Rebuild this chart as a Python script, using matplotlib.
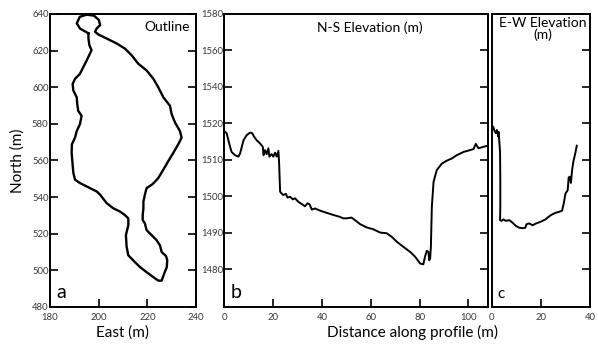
import matplotlib
matplotlib.use("Agg")
import matplotlib.pyplot as plt
import numpy as np

plt.rcParams['font.family'] = ['Lato', 'DejaVu Sans']

### DATA ###

# panel a: outline of the feature
outline_east = [195.8, 192.3, 191.0, 192.3, 195.1, 198.1, 200.1, 200.6, 199.2, 198.5,
                199.9, 203.3, 207.4, 210.8, 213.6, 216.3, 219.7, 222.5, 224.5, 226.6,
                229.3, 230.0, 231.4, 233.4, 234.1, 232.7, 230.7, 228.6, 226.6, 224.5,
                222.2, 219.7, 219.0, 218.4, 218.4, 218.1, 218.1, 219.0, 219.7, 221.8,
                223.8, 225.2, 225.9, 227.7, 228.2, 228.0, 226.9, 225.9, 224.5, 222.5,
                219.7, 217.0, 214.9, 212.2, 211.5, 211.2, 212.2, 212.2, 210.8, 208.8,
                206.0, 203.3, 200.6, 199.2, 197.8, 195.1, 192.3, 190.3, 189.6, 189.3,
                188.9, 189.0, 190.3, 191.0, 192.3, 193.0, 191.6, 191.2, 191.0, 189.6,
                189.3, 190.3, 192.3, 193.7, 195.1, 196.4, 197.1, 196.2, 195.8]
outline_north = [629.4, 632.1, 634.9, 638.5, 639.6, 639.1, 636.7, 633.9, 632.1, 630.3,
                 628.8, 626.6, 623.9, 621.1, 617.4, 612.8, 609.2, 604.6, 600.0, 594.5,
                 589.9, 585.3, 580.7, 576.1, 572.5, 568.8, 564.2, 559.6, 555.0, 550.4,
                 547.1, 544.9, 541.3, 537.6, 533.9, 530.2, 527.5, 525.7, 522.0, 519.2,
                 516.5, 513.7, 510.0, 507.8, 505.5, 501.8, 498.1, 494.4, 494.4, 496.3,
                 499.0, 501.8, 504.5, 508.2, 512.8, 519.2, 524.7, 528.4, 530.2, 532.1,
                 533.9, 536.7, 541.3, 543.1, 544.0, 545.8, 547.7, 549.5, 553.2, 557.8,
                 564.2, 568.8, 572.5, 576.1, 579.8, 584.4, 587.1, 590.8, 594.5, 598.2,
                 601.8, 604.6, 607.3, 611.0, 614.7, 618.3, 620.2, 622.9, 626.6]

# panel b: N-S profile
ns_dist = [0.2, 0.9, 1.6, 2.3, 2.9, 4.3, 5.7, 6.4, 7.1, 7.8, 9.1, 10.5, 11.4, 12.1,
           13.2, 14.6, 15.7, 16.0, 16.6, 17.3, 18.0, 18.4, 19.3, 20.0, 20.7, 21.4,
           22.1, 22.4, 22.8, 23.4, 24.1, 25.2, 25.8, 26.9, 28.0, 28.9, 30.3, 31.7,
           33.0, 34.0, 34.8, 35.8, 37.1, 39.2, 41.9, 44.7, 47.3, 48.7, 50.1, 52.1,
           53.5, 55.6, 58.3, 61.0, 63.8, 66.5, 68.6, 70.6, 73.3, 76.1, 78.1, 80.2,
           81.5, 82.2, 82.9, 83.6, 83.9, 84.3, 84.6, 85.0, 85.7, 87.0, 89.1, 91.1,
           93.2, 95.2, 98.0, 100.7, 102.1, 103.0, 104.1, 106.2, 107.8]
ns_elev = [1517.7, 1517.3, 1515.4, 1513.6, 1512.2, 1511.3, 1510.9, 1511.8, 1513.6,
           1515.4, 1516.8, 1517.5, 1517.3, 1516.4, 1515.4, 1514.5, 1513.6, 1511.3,
           1512.7, 1511.6, 1513.2, 1510.9, 1511.6, 1510.9, 1512.0, 1510.9, 1512.5,
           1509.0, 1501.3, 1500.8, 1500.4, 1500.7, 1499.7, 1499.9, 1499.2, 1499.5,
           1498.5, 1497.9, 1497.3, 1498.1, 1497.9, 1496.4, 1496.7, 1496.1, 1495.5,
           1494.9, 1494.4, 1494.0, 1494.0, 1494.2, 1493.5, 1492.4, 1491.5, 1491.0,
           1490.1, 1489.9, 1488.9, 1487.6, 1486.2, 1484.8, 1483.5, 1481.6, 1481.4,
           1483.5, 1485.1, 1484.8, 1482.5, 1483.0, 1486.2, 1497.2, 1504.0, 1507.2,
           1509.0, 1509.8, 1510.4, 1511.3, 1512.2, 1512.7, 1513.0, 1514.4, 1513.2,
           1513.6, 1513.9]

# panel c: E-W profile
ew_dist = [0.0, 0.5, 1.0, 1.6, 2.0, 2.6, 2.7, 3.0, 3.3, 3.4, 3.4, 3.3, 3.9, 4.6, 5.7,
           7.1, 8.4, 9.8, 11.2, 12.5, 13.6, 14.1, 15.2, 16.6, 18.0, 20.0, 21.8, 22.7,
           24.1, 25.9, 27.5, 28.6, 29.3, 30.0, 30.9, 31.3, 31.8, 32.2, 32.7, 33.2,
           34.0, 34.6]
ew_elev = [1519.3, 1519.1, 1518.0, 1517.3, 1518.2, 1516.4, 1517.7, 1515.0, 1512.2,
           1504.5, 1497.2, 1493.5, 1493.3, 1493.7, 1493.3, 1493.5, 1492.8, 1491.9,
           1491.4, 1491.3, 1491.4, 1492.4, 1492.6, 1492.1, 1492.6, 1493.1, 1493.7,
           1494.2, 1494.9, 1495.5, 1495.8, 1496.1, 1498.1, 1500.8, 1501.7, 1505.2,
           1505.4, 1503.7, 1507.2, 1509.5, 1511.8, 1513.9]

# elevation axis: evenly spaced ticks, labels as printed on the original
elev_ticks = [1480, 1490, 1500, 1510, 1520, 1530, 1540, 1550]
elev_labels = ['1480', '1490', '1500', '1510', '1520', '1540', '1560', '1580']

north_ticks = [480, 500, 520, 540, 560, 580, 600, 620, 640]
east_ticks = [180, 200, 220, 240]
ns_ticks = [0, 20, 40, 60, 80, 100]
ew_ticks = [0, 20, 40]


### FIGURE ###

fig = plt.figure(figsize=(5.98, 3.47), dpi=100)
ax_a = fig.add_axes([0.0836, 0.1153, 0.2441, 0.8444])
ax_b = fig.add_axes([0.3754, 0.1153, 0.4406, 0.8444])
ax_c = fig.add_axes([0.8227, 0.1153, 0.1639, 0.8444])

for ax in (ax_a, ax_b, ax_c):
  for s in ax.spines.values():
    s.set_linewidth(1.4)
  ax.tick_params(direction='in', length=6, width=1.2, labelsize=6.8,
                 colors='black', labelcolor='#383838', right=True, top=False)
  ax.tick_params(axis='x', pad=4)
  ax.tick_params(axis='y', pad=1)

# a - outline
ax_a.plot(outline_east + outline_east[:1], outline_north + outline_north[:1],
          color='black', lw=1.7)
ax_a.set_xlim(180, 240)
ax_a.set_ylim(480, 640)
ax_a.set_xticks(east_ticks)
ax_a.set_yticks(north_ticks)
ax_a.set_xlabel("East (m)", fontsize=11, labelpad=3)
ax_a.set_ylabel("North (m)", fontsize=11, labelpad=5)
ax_a.text(0.955, 0.975, "Outline", transform=ax_a.transAxes, ha='right', va='top', fontsize=10)
ax_a.text(0.045, 0.02, "a", transform=ax_a.transAxes, ha='left', va='bottom', fontsize=14)

# b - N-S profile
ax_b.plot(ns_dist, ns_elev, color='black', lw=1.4)
ax_b.set_xlim(0, 108)
ax_b.set_ylim(1469.7, 1550)
ax_b.set_xticks(ns_ticks)
ax_b.set_yticks(elev_ticks)
ax_b.set_yticklabels(elev_labels)
ax_b.text(0.55, 0.975, "N-S Elevation (m)", transform=ax_b.transAxes, ha='center', va='top', fontsize=10)
ax_b.text(0.022, 0.02, "b", transform=ax_b.transAxes, ha='left', va='bottom', fontsize=14)

# c - E-W profile
ax_c.plot(ew_dist, ew_elev, color='black', lw=1.4)
ax_c.set_xlim(0, 40)
ax_c.set_ylim(1469.7, 1550)
ax_c.set_xticks(ew_ticks)
ax_c.set_yticks(elev_ticks)
ax_c.tick_params(axis='y', left=False, labelleft=False)
ax_c.text(0.52, 0.99, "E-W Elevation\n(m)", transform=ax_c.transAxes, ha='center', va='top',
          fontsize=10, linespacing=0.95)
ax_c.text(0.06, 0.02, "c", transform=ax_c.transAxes, ha='left', va='bottom', fontsize=11)

fig.text(0.689, 0.02, "Distance along profile (m)", ha='center', va='bottom', fontsize=11)

fig.savefig("out.png", dpi=100)
